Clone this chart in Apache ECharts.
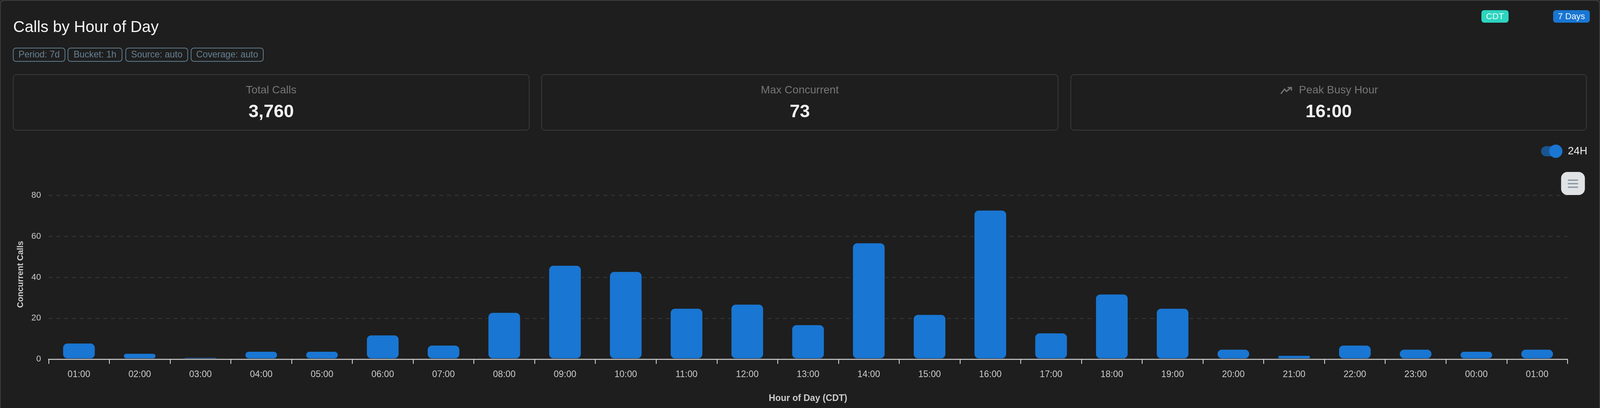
<!DOCTYPE html>
<html>
<head>
<meta charset="utf-8">
<style>
html,body{margin:0;padding:0;background:#2a2a2a;width:100%;height:100%;overflow:hidden}
#c{width:100vw;height:100vh}
</style>
<script src="https://cdn.jsdelivr.net/npm/echarts@6/dist/echarts.min.js"></script>
</head>
<body>
<div id="c"></div>
<script>
const hours = ['01:00','02:00','03:00','04:00','05:00','06:00','07:00','08:00','09:00','10:00','11:00','12:00','13:00','14:00','15:00','16:00','17:00','18:00','19:00','20:00','21:00','22:00','23:00','00:00','01:00'];
const concurrentCalls = [8,3,1,4,4,12,7,23,46,43,25,27,17,57,22,73,13,32,25,5,2,7,5,4,5];
const yTicks = [0,20,40,60,80];
const chips = ['Period: 7d','Bucket: 1h','Source: auto','Coverage: auto'];
const statLabels = ['Total Calls','Max Concurrent','Peak Busy Hour'];
const statValues = ['3,760','73','16:00'];
const titleText = 'Calls by Hour of Day';
const yName = 'Concurrent Calls';
const xName = 'Hour of Day (CDT)';

const FF = '"Liberation Sans", Arial, Helvetica, sans-serif';
const BG = '#1e1e1e';
const BLUE = '#1976d2';

// The layout is measured on a 4236 wide page; fit it to the real window width.
const sx = window.innerWidth / 4236;
const X = v => v * sx;
const S = v => v * sx;

function txt(text, x, y, size, fill, align, weight) {
  const font = (weight||'normal')+' '+S(size)+'px '+FF;
  return { type:'text', z:100, style:{
    text, x:X(x), y, fill, font, textFont:font,
    align:align||'left', textAlign:align||'left',
    verticalAlign:'middle', textVerticalAlign:'middle'
  }};
}
function box(x,y,w,h,r,fill,stroke,lw,z) {
  return { type:'rect', z:z||50, shape:{x:X(x),y,width:X(w),height:h,r},
    style:{fill:fill||'transparent', stroke:stroke||null, lineWidth:lw||0}};
}

const els = [];
// outer panel
els.push(box(1,1,4234,1080,10,BG,'#3d3d3d',2,-10));
// chips
const chipX = [[35,172],[180,323],[333,497],[506,697]];
chips.forEach((c,i)=>{
  const [a,b]=chipX[i];
  els.push(box(a,123,b-a,34,7,'transparent','#5f7a8c',2));
  els.push(txt(c,(a+b)/2,141,24,'#668294','center'));
});
// stat cards
const cardX = [[35,1401],[1434,2801],[2835,4200]];
cardX.forEach(([a,b],i)=>{
  els.push(box(a,191,b-a,142,8,'transparent','#3a3a3a',2));
  const cx=(a+b)/2;
  if(i===2){
    els.push(txt(statLabels[i],3439,231,29,'#777777','left'));
    els.push({type:'polyline',z:100,shape:{points:[[X(3391),240],[X(3401),228],[X(3406),234],[X(3418),224]]},
      style:{fill:'none',stroke:'#777777',lineWidth:3}});
    els.push({type:'polyline',z:100,shape:{points:[[X(3409),224],[X(3419),224],[X(3419),232]]},
      style:{fill:'none',stroke:'#777777',lineWidth:3}});
  } else {
    els.push(txt(statLabels[i],cx,231,29,'#777777','center'));
  }
  els.push(txt(statValues[i],cx,287,48,'#f2f2f2','center','bold'));
});
// badges
els.push(box(3922,26,72,32,7,'#2dd4bf'));
els.push(txt('CDT',3958,43,23,'#eafffb','center'));
els.push(box(4112,26,97,32,7,BLUE));
els.push(txt('7 Days',4160.5,43,23,'#f2f8ff','center'));
// toggle
els.push(box(4080,374,44,26,13,'#1a5490'));
els.push({type:'circle',z:60,shape:{cx:X(4119),cy:387,r:17},style:{fill:BLUE}});
els.push(txt('24H',4151,388,28,'#eeeeee','left'));
// menu button
els.push(box(4133,440,63,59,16,'#e0e2e4',null,0,70));
[461,470,479].forEach(y=>{
  els.push({type:'line',z:80,shape:{x1:X(4151),y1:y,x2:X(4178),y2:y},style:{stroke:'#7f8e9b',lineWidth:3}});
});

const chart = echarts.init(document.getElementById('c'), null, {renderer:'canvas', devicePixelRatio:1});
chart.setOption({
  animation:false,
  backgroundColor:'transparent',
  textStyle:{fontFamily:FF},
  title:{text:titleText,left:X(35),top:50,padding:0,z:100,textStyle:{fontFamily:FF,fontSize:S(42),fontWeight:'normal',color:'#f5f5f5'}},
  grid:{left:X(128.6),top:500,width:X(4021.4),height:419,containLabel:false},
  xAxis:{
    type:'category',data:hours,z:3,
    name:xName,nameLocation:'middle',nameGap:89,
    nameTextStyle:{fontFamily:FF,fontSize:S(24),fontWeight:'bold',color:'#cccccc'},
    axisLine:{show:true,lineStyle:{color:'#d0d0d0',width:2.5}},
    axisTick:{show:true,length:12,lineStyle:{color:'#dddddd',width:2}},
    axisLabel:{interval:0,fontSize:S(24),color:'#cccccc',margin:28.5,fontFamily:FF},
    splitLine:{show:false}
  },
  yAxis:{
    type:'value',min:yTicks[0],max:yTicks[yTicks.length-1],interval:yTicks[1]-yTicks[0],
    name:yName,nameLocation:'middle',nameGap:X(63),
    nameTextStyle:{fontFamily:FF,fontSize:S(22),fontWeight:'bold',color:'#cccccc',padding:[0,0,0,15]},
    axisLine:{show:false},axisTick:{show:false},
    axisLabel:{fontSize:S(23),color:'#cccccc',margin:X(20),fontFamily:FF},
    splitLine:{show:true,lineStyle:{color:'#383838',width:2,type:[10,10]}}
  },
  series:[{
    type:'bar',data:concurrentCalls,barWidth:X(88),z:2,
    itemStyle:{color:BLUE,borderColor:BG,borderWidth:2,borderRadius:12}
  }],
  graphic:{elements:els}
});
</script>
</body>
</html>
